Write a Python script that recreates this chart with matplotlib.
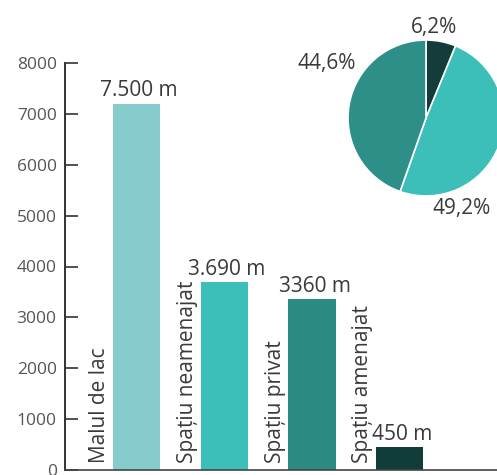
import numpy as np
import matplotlib
matplotlib.use("Agg")
import matplotlib.pyplot as plt

plt.rcParams['font.family'] = ['Open Sans', 'DejaVu Sans']

# bar data
categories = ["Malul de lac", "Spațiu neamenajat", "Spațiu privat", "Spațiu amenajat"]
heights = [7200, 3690, 3360, 450]
value_labels = ["7.500 m", "3.690 m", "3360 m", "450 m"]
bar_colors = ["#86cccc", "#3dbfb9", "#2b8a84", "#103d38"]

# pie data
pie_values = [6.2, 49.2, 44.6]
pie_labels = ["6,2%", "49,2%", "44,6%"]
pie_colors = ["#143c3a", "#3dbfb9", "#2e8e88"]

W, H = 497, 475
fig = plt.figure(figsize=(W / 100, H / 100), dpi=100)

ax = fig.add_axes([65 / W, 5 / H, (W - 65) / W, (470 - 63) / H])
x = np.arange(len(categories))
ax.bar(x, heights, width=0.54, color=bar_colors)
ax.set_xlim(-0.815, 4.11)
ax.set_ylim(0, 8000)
ax.set_yticks(range(0, 8001, 1000))
ax.set_xticks([])
for s in ["top", "right"]:
    ax.spines[s].set_visible(False)
ax.spines["left"].set_color("#333333")
ax.spines["left"].set_linewidth(1.4)
ax.spines["bottom"].set_color("#444444")
ax.spines["bottom"].set_linewidth(1.2)
ax.tick_params(axis="y", direction="in", length=9, width=1.2, color="#333333",
               labelsize=12.5, labelcolor="#555555", pad=6)

for i in range(len(categories)):
    ax.text(x[i] + 0.03, heights[i] + 50, value_labels[i], ha="center", va="bottom",
            fontsize=15, color="#3a3a3a")
    ax.text(x[i] - 0.42, 130, categories[i], rotation=90, ha="center", va="bottom",
            fontsize=15, color="#3a3a3a")

# pie in the upper right
r = 78
cx, cy = 426, 118
pax = fig.add_axes([(cx - r) / W, (H - cy - r) / H, 2 * r / W, 2 * r / H])
pax.pie(pie_values, colors=pie_colors, startangle=90, counterclock=False,
        wedgeprops=dict(edgecolor="white", linewidth=1.2))
pax.set_aspect("equal")
pax.set_xlim(-1, 1)
pax.set_ylim(-1, 1)

fig.text(434 / W, 1 - 27 / H, pie_labels[0], ha="center", va="center", fontsize=15, color="#3a3a3a")
fig.text(462 / W, 1 - 208 / H, pie_labels[1], ha="center", va="center", fontsize=15, color="#3a3a3a")
fig.text(327 / W, 1 - 63 / H, pie_labels[2], ha="center", va="center", fontsize=15, color="#3a3a3a")

fig.savefig("out.png", dpi=100)
